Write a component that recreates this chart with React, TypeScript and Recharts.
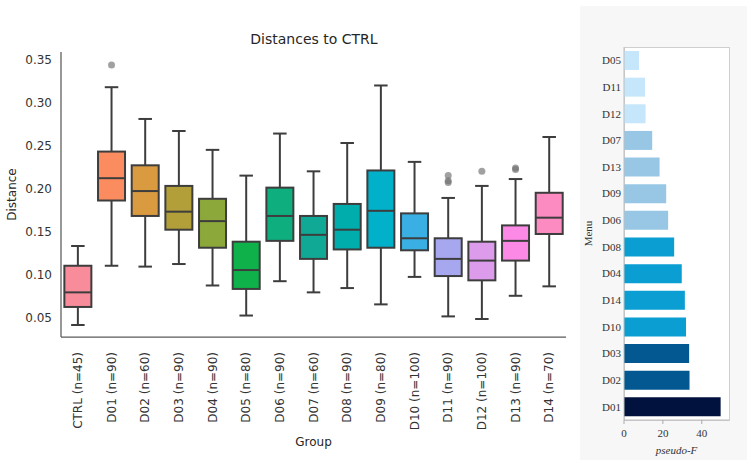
import React from 'react';
import { ComposedChart, BarChart, Bar, XAxis, YAxis, Cell } from 'recharts';

// box plot data
const GROUPS = ['CTRL', 'D01', 'D02', 'D03', 'D04', 'D05', 'D06', 'D07', 'D08', 'D09', 'D10', 'D11', 'D12', 'D13', 'D14'];
const GROUP_N = [45, 90, 60, 90, 90, 80, 90, 60, 90, 80, 100, 90, 100, 90, 70];
const WHISKER_LOW = [0.041, 0.110, 0.109, 0.112, 0.087, 0.052, 0.092, 0.079, 0.084, 0.065, 0.097, 0.051, 0.048, 0.075, 0.086];
const Q1 = [0.062, 0.186, 0.168, 0.152, 0.131, 0.083, 0.139, 0.118, 0.129, 0.131, 0.128, 0.098, 0.093, 0.116, 0.147];
const MEDIAN = [0.079, 0.212, 0.197, 0.173, 0.162, 0.105, 0.168, 0.146, 0.152, 0.174, 0.142, 0.118, 0.116, 0.139, 0.166];
const Q3 = [0.110, 0.243, 0.227, 0.203, 0.188, 0.138, 0.201, 0.168, 0.182, 0.221, 0.171, 0.142, 0.138, 0.157, 0.195];
const WHISKER_HIGH = [0.133, 0.318, 0.281, 0.267, 0.245, 0.215, 0.264, 0.220, 0.253, 0.320, 0.231, 0.189, 0.203, 0.211, 0.260];
const OUTLIERS = [[], [0.344], [], [], [], [], [], [], [], [], [], [0.215, 0.209, 0.207], [0.220], [0.224, 0.222], []];
const DIST_TICKS = [0.05, 0.1, 0.15, 0.2, 0.25, 0.3, 0.35];

// pseudo-F panel
const MENU = ['D05', 'D11', 'D12', 'D07', 'D13', 'D09', 'D06', 'D08', 'D04', 'D14', 'D10', 'D03', 'D02', 'D01'];
const PSEUDO_F = [7.7, 10.8, 11.1, 14.5, 18.3, 21.7, 22.7, 25.8, 29.7, 31.3, 31.9, 33.5, 33.7, 49.7];
const F_TICKS = [0, 20, 40];

const BOX_COLORS = ['#f98c9b', '#fb8c60', '#d99a40', '#b39f3a', '#8ca83a', '#0fb24a', '#0fae7e', '#10a996', '#00adad', '#00b1c9', '#3aafe3', '#a7a7f0', '#dc9ceb', '#fb89e5', '#fb8bc1'];
const F_COLORS = ['#c6e6fb', '#c6e6fb', '#c6e6fb', '#97c7e5', '#97c7e5', '#97c7e5', '#97c7e5', '#0a9ed3', '#0a9ed3', '#0a9ed3', '#0a9ed3', '#035891', '#035891', '#00123d'];

const boxData = GROUPS.map((g, i) => ({
  name: `${g} (n=${GROUP_N[i]})`,
  range: [WHISKER_LOW[i], WHISKER_HIGH[i]],
  lo: WHISKER_LOW[i],
  q1: Q1[i],
  med: MEDIAN[i],
  q3: Q3[i],
  hi: WHISKER_HIGH[i],
  out: OUTLIERS[i],
}));

const fData = MENU.map((m, i) => ({ name: m, f: PSEUDO_F[i] }));

const EDGE = '#3d3d3d';

const BoxShape = (props: any) => {
  const { x, y, width, height, payload, index } = props;
  const top = Math.min(y, y + height);
  const h = Math.abs(height);
  const k = h / (payload.hi - payload.lo);
  const yOf = (v: number) => top + (payload.hi - v) * k;
  const cx = x + width / 2;
  const cap = width / 4;
  return (
    <g>
      <line x1={cx} x2={cx} y1={yOf(payload.hi)} y2={yOf(payload.q3)} stroke={EDGE} strokeWidth={2} />
      <line x1={cx} x2={cx} y1={yOf(payload.q1)} y2={yOf(payload.lo)} stroke={EDGE} strokeWidth={2} />
      <line x1={cx - cap} x2={cx + cap} y1={yOf(payload.hi)} y2={yOf(payload.hi)} stroke={EDGE} strokeWidth={2} />
      <line x1={cx - cap} x2={cx + cap} y1={yOf(payload.lo)} y2={yOf(payload.lo)} stroke={EDGE} strokeWidth={2} />
      <rect x={x} y={yOf(payload.q3)} width={width} height={yOf(payload.q1) - yOf(payload.q3)} fill={BOX_COLORS[index]} stroke={EDGE} strokeWidth={2} />
      <line x1={x} x2={x + width} y1={yOf(payload.med)} y2={yOf(payload.med)} stroke={EDGE} strokeWidth={2} />
      {payload.out.map((o: number, j: number) => (
        <circle key={j} cx={cx} cy={yOf(o)} r={3.5} fill="#6f6f6f" fillOpacity={0.65} />
      ))}
    </g>
  );
};

const GroupTick = (props: any) => {
  const { x, y, payload } = props;
  return (
    <text transform={`translate(${x},${y}) rotate(-90)`} textAnchor="end" dy="0.35em" fontSize={12} fill="#333" fontFamily="DejaVu Sans">
      {payload.value}
    </text>
  );
};

const sans = { fontFamily: 'DejaVu Sans', fontSize: 12, fill: '#333' };
const serif = { fontFamily: 'Liberation Serif', fontSize: 11, fill: '#333' };

export default function App() {
  return (
    <div style={{ position: 'absolute', left: 0, top: 0, width: 756, height: 470, background: '#fff', overflow: 'hidden' }}>
      <div style={{ position: 'absolute', left: 214, top: 31, width: 200, textAlign: 'center', fontFamily: 'DejaVu Sans', fontSize: 14, color: '#262626' }}>
        Distances to CTRL
      </div>

      <div style={{ position: 'absolute', left: 0, top: 0 }}>
        <ComposedChart width={570} height={470} data={boxData} margin={{ top: 52, right: 4, left: 0, bottom: 0 }} barCategoryGap="10%">
          <XAxis
            dataKey="name"
            height={133}
            tickLine={false}
            axisLine={{ stroke: '#5a5a5a', strokeWidth: 1.25 }}
            interval={0}
            tick={<GroupTick />}
            tickSize={13}
            tickMargin={2}
            label={{ value: 'Group', position: 'insideBottom', offset: 24, style: { ...sans, fill: '#262626' } }}
          />
          <YAxis
            type="number"
            domain={[0.027, 0.359]}
            allowDataOverflow
            ticks={DIST_TICKS}
            tickFormatter={(v: number) => v.toFixed(2)}
            width={61}
            tickLine={false}
            tickSize={7}
            tickMargin={2}
            axisLine={{ stroke: '#5a5a5a', strokeWidth: 1.25 }}
            tick={sans}
            label={{ value: 'Distance', angle: -90, position: 'insideLeft', offset: 12, style: { ...sans, fill: '#262626', textAnchor: 'middle' } }}
          />
          <Bar dataKey="range" shape={<BoxShape />} isAnimationActive={false} />
        </ComposedChart>
      </div>

      <div style={{ position: 'absolute', left: 580, top: 6, width: 167, height: 454, background: '#f7f7f7' }} />
      <div style={{ position: 'absolute', left: 624, top: 47, width: 104, height: 372, background: '#fff', border: '1px solid #cfcfcf' }} />
      <div style={{ position: 'absolute', left: 580, top: 6 }}>
        <BarChart width={167} height={454} data={fData} layout="vertical" margin={{ top: 41, right: 18, left: 0, bottom: 0 }} barCategoryGap="15%">
          <XAxis
            type="number"
            domain={[0, 54]}
            ticks={F_TICKS}
            height={40}
            tickSize={4}
            tickMargin={5}
            tickLine={{ stroke: '#aaa' }}
            axisLine={{ stroke: '#bdbdbd' }}
            tick={serif}
            label={{ value: 'pseudo-F', position: 'insideBottom', offset: 6, style: { ...serif, fontStyle: 'italic' } }}
          />
          <YAxis
            type="category"
            dataKey="name"
            width={44}
            tickLine={false}
            tickSize={0}
            tickMargin={3}
            axisLine={{ stroke: '#bdbdbd' }}
            tick={serif}
            interval={0}
            label={{ value: 'Menu', angle: -90, position: 'insideLeft', offset: 8, style: { ...serif, textAnchor: 'middle' } }}
          />
          <Bar dataKey="f" isAnimationActive={false}>
            {fData.map((d, i) => (
              <Cell key={d.name} fill={F_COLORS[i]} />
            ))}
          </Bar>
        </BarChart>
      </div>
    </div>
  );
}
